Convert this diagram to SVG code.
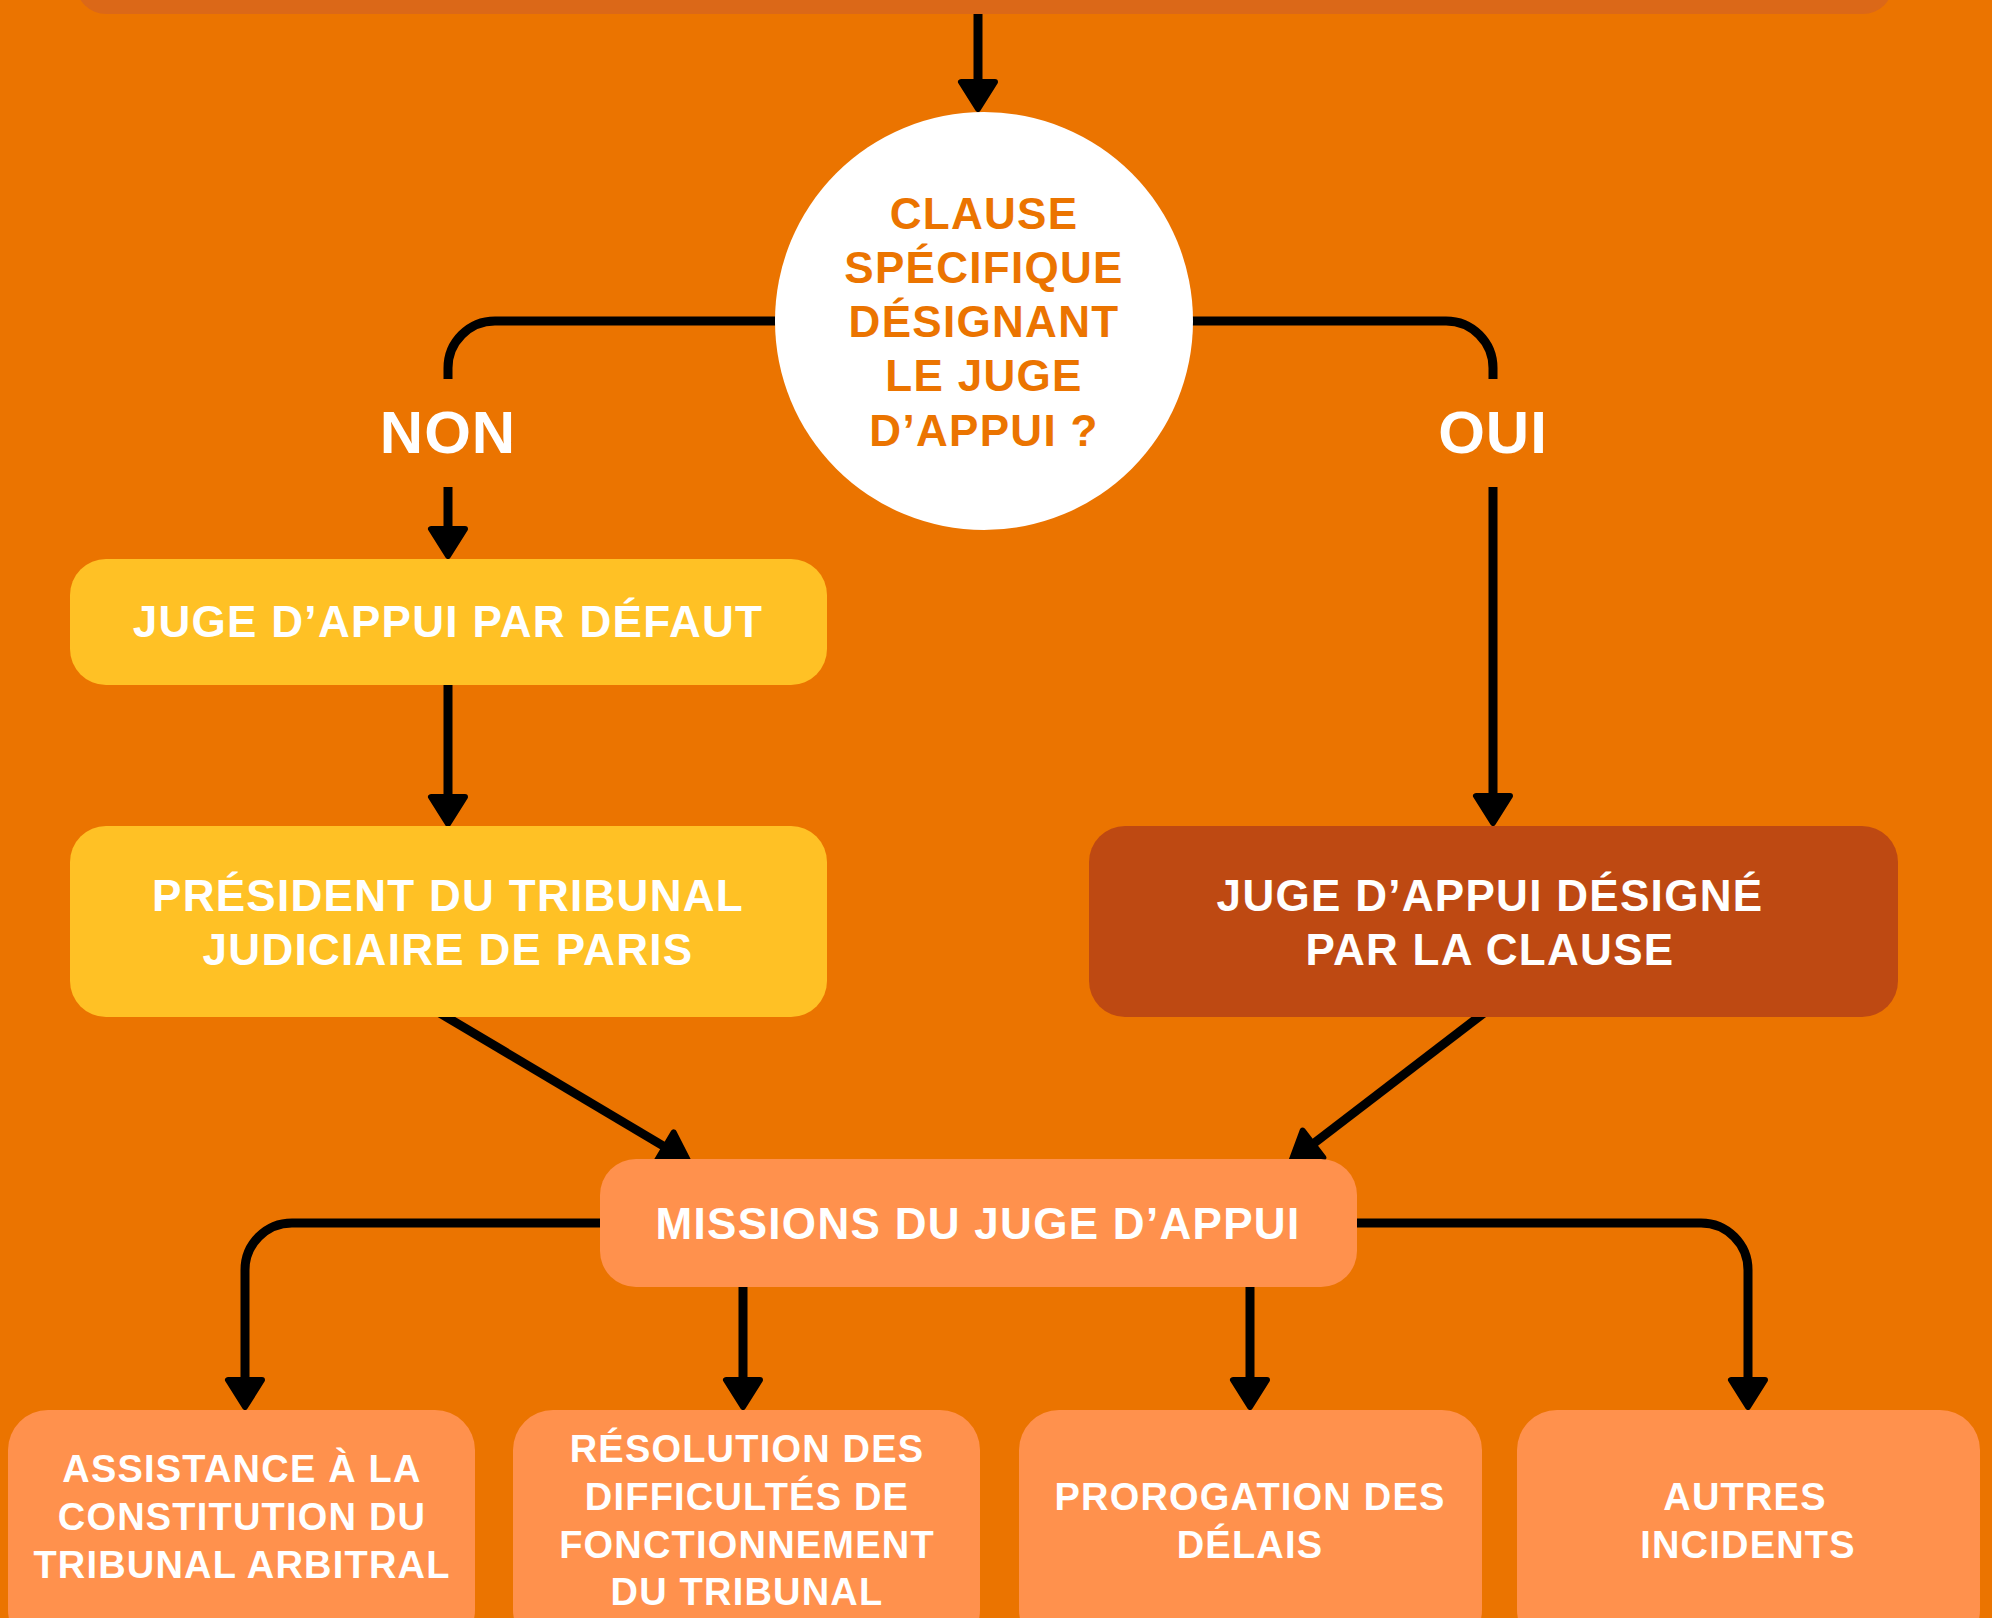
<svg xmlns="http://www.w3.org/2000/svg" width="1992" height="1618" viewBox="0 0 1992 1618">
<style>
.bg{fill:#EB7400}
.t{font-family:"Liberation Sans",Arial,sans-serif;font-weight:bold;text-anchor:middle;fill:#FFFFFF;letter-spacing:1.3px}
.t44{font-size:44px}
.t38{font-size:38px;letter-spacing:1.2px}
.t60{font-size:60px;letter-spacing:1px}
.q{fill:#EB7400}
.yellow{fill:#FFC125}
.rust{fill:#BE4912}
.light{fill:#FF914D}
.conn{fill:none;stroke:#000;stroke-width:9;stroke-linecap:butt;stroke-linejoin:round}
.arr{marker-end:url(#ah)}
</style>
<defs>
<marker id="ah" markerUnits="userSpaceOnUse" viewBox="-5 -25 40 50" markerWidth="40" markerHeight="50" refX="0" refY="0" orient="auto" overflow="visible">
<path d="M0,-17 L27,0 L0,17 Z" fill="#000" stroke="#000" stroke-width="6" stroke-linejoin="round"/>
</marker>
</defs>
<rect class="bg" x="0" y="0" width="1992" height="1618"/>

<g id="connectors">
<path class="conn arr" d="M978,14 V82"/>
<path class="conn" d="M775,321 H495 A47,47 0 0 0 448,368 V379"/>
<path class="conn" d="M1192,321 H1446 A47,47 0 0 1 1493,368 V379"/>
<path class="conn arr" d="M448,487 V529"/>
<path class="conn arr" d="M1493,487 V796"/>
<path class="conn arr" d="M448,685 V797"/>
<path class="conn arr" d="M438,1012 L665,1147"/>
<path class="conn arr" d="M1484,1013 L1313,1144"/>
<path class="conn arr" d="M601,1223 H292 A47,47 0 0 0 245,1270 V1380"/>
<path class="conn arr" d="M1357,1223 H1701 A47,47 0 0 1 1748,1270 V1380"/>
<path class="conn arr" d="M743,1287 V1380"/>
<path class="conn arr" d="M1250,1287 V1380"/>
</g>

<g id="top-bar">
<rect x="76" y="-60" width="1817" height="74" rx="30" fill="#DB6818"/>
</g>

<g id="question">
<circle cx="984" cy="321" r="209" fill="#FFFFFF"/>
<text class="t t44 q" x="984" y="229">CLAUSE</text>
<text class="t t44 q" x="984" y="283">SPÉCIFIQUE</text>
<text class="t t44 q" x="984" y="337">DÉSIGNANT</text>
<text class="t t44 q" x="984" y="391">LE JUGE</text>
<text class="t t44 q" x="984" y="446">D’APPUI ?</text>
</g>

<g id="label-non">
<text class="t t60" x="448" y="453">NON</text>
</g>
<g id="label-oui">
<text class="t t60" x="1493" y="453">OUI</text>
</g>

<g id="defaut">
<rect class="yellow" x="70" y="559" width="757" height="126" rx="36"/>
<text class="t t44" x="448" y="637">JUGE D’APPUI PAR DÉFAUT</text>
</g>

<g id="president">
<rect class="yellow" x="70" y="826" width="757" height="191" rx="36"/>
<text class="t t44" x="448" y="911">PRÉSIDENT DU TRIBUNAL</text>
<text class="t t44" x="448" y="965">JUDICIAIRE DE PARIS</text>
</g>

<g id="designe">
<rect class="rust" x="1089" y="826" width="809" height="191" rx="36"/>
<text class="t t44" x="1490" y="911">JUGE D’APPUI DÉSIGNÉ</text>
<text class="t t44" x="1490" y="965">PAR LA CLAUSE</text>
</g>

<g id="missions">
<rect class="light" x="600" y="1159" width="757" height="128" rx="36"/>
<text class="t t44" x="978" y="1239">MISSIONS DU JUGE D’APPUI</text>
</g>

<g id="assistance">
<rect class="light" x="8" y="1410" width="467" height="240" rx="40"/>
<text class="t t38" x="242" y="1482">ASSISTANCE À LA</text>
<text class="t t38" x="242" y="1530">CONSTITUTION DU</text>
<text class="t t38" x="242" y="1578">TRIBUNAL ARBITRAL</text>
</g>

<g id="resolution">
<rect class="light" x="513" y="1410" width="467" height="240" rx="40"/>
<text class="t t38" x="747" y="1462">RÉSOLUTION DES</text>
<text class="t t38" x="747" y="1510">DIFFICULTÉS DE</text>
<text class="t t38" x="747" y="1558">FONCTIONNEMENT</text>
<text class="t t38" x="747" y="1605">DU TRIBUNAL</text>
</g>

<g id="prorogation">
<rect class="light" x="1019" y="1410" width="463" height="240" rx="40"/>
<text class="t t38" x="1250" y="1510">PROROGATION DES</text>
<text class="t t38" x="1250" y="1558">DÉLAIS</text>
</g>

<g id="autres">
<rect class="light" x="1517" y="1410" width="463" height="240" rx="40"/>
<text class="t t38" x="1745" y="1510">AUTRES</text>
<text class="t t38" x="1748" y="1558">INCIDENTS</text>
</g>
</svg>
